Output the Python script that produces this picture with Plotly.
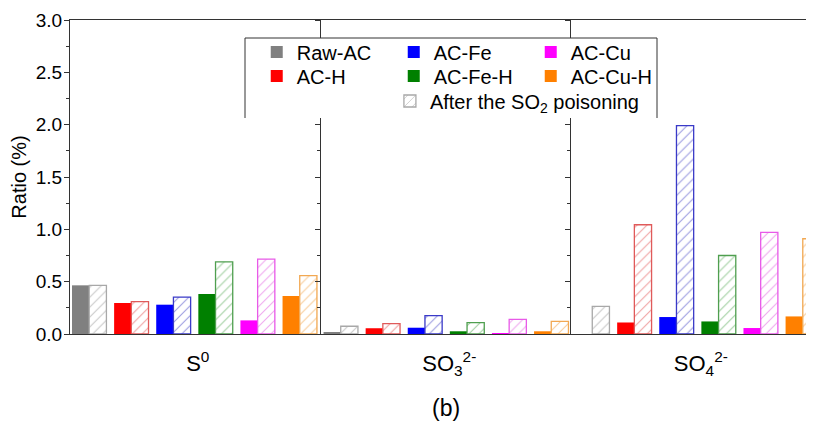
import plotly.graph_objects as go

categories = ["S<sup>0</sup>", "SO<sub>3</sub><sup>2-</sup>", "SO<sub>4</sub><sup>2-</sup>"]
series = ["Raw-AC", "AC-H", "AC-Fe", "AC-Fe-H", "AC-Cu", "AC-Cu-H"]

fresh_raw_ac = [0.465, 0.01, 0.0]
fresh_ac_h = [0.296, 0.055, 0.11]
fresh_ac_fe = [0.28, 0.06, 0.162]
fresh_ac_fe_h = [0.382, 0.026, 0.12]
fresh_ac_cu = [0.13, 0.003, 0.057]
fresh_ac_cu_h = [0.363, 0.026, 0.168]

poisoned_raw_ac = [0.465, 0.074, 0.264]
poisoned_ac_h = [0.31, 0.10, 1.044]
poisoned_ac_fe = [0.353, 0.175, 1.99]
poisoned_ac_fe_h = [0.69, 0.108, 0.75]
poisoned_ac_cu = [0.715, 0.14, 0.97]
poisoned_ac_cu_h = [0.557, 0.12, 0.91]

fresh = [fresh_raw_ac, fresh_ac_h, fresh_ac_fe, fresh_ac_fe_h, fresh_ac_cu, fresh_ac_cu_h]
poisoned = [poisoned_raw_ac, poisoned_ac_h, poisoned_ac_fe, poisoned_ac_fe_h, poisoned_ac_cu, poisoned_ac_cu_h]

solid_colors = ["#808080", "#FF0000", "#0000FF", "#008000", "#FF00FF", "#FF8000"]
outline_colors = ["#A8A8A8", "#E05a5a", "#3a3ac8", "#4f9f4f", "#E85AE8", "#F2A852"]
hatch_colors = ["#C8C8C8", "#F0A0A0", "#9a9ae0", "#a0cfa0", "#F0A8F0", "#F8CC98"]

poison_label = "After the SO<sub>2</sub> poisoning"

FONT = "Arial, Liberation Sans, sans-serif"
x_pos = list(range(len(categories)))
pair_step = 0.1674
bar_w = 0.0684

fig = go.Figure()
for j, name in enumerate(series):
    fig.add_trace(go.Bar(
        x=x_pos, y=fresh[j], name=name,
        offset=-0.5 + j * pair_step, width=bar_w,
        marker=dict(color=solid_colors[j], line=dict(width=0)),
        legend="legend" if j % 2 == 0 else "legend2",
        showlegend=True,
    ))
for j, name in enumerate(series):
    fig.add_trace(go.Bar(
        x=x_pos, y=poisoned[j],
        name=poison_label if j == 0 else name + " poisoned",
        offset=-0.5 + j * pair_step + bar_w, width=bar_w,
        marker=dict(color="white",
                    line=dict(width=1.3, color=outline_colors[j]),
                    pattern=dict(shape="/", fgcolor=hatch_colors[j], bgcolor="white",
                                 size=7, solidity=0.15, fillmode="replace")),
        legend="legend3",
        showlegend=(j == 0),
        yaxis="y2" if j < 3 else "y3",
    ))

axis_color = "#333333"
yax_common = dict(range=[0, 3], dtick=0.5, showgrid=False, zeroline=False,
                  showline=True, linecolor=axis_color, linewidth=1,
                  ticks="outside", ticklen=5, tickcolor=axis_color,
                  minor=dict(ticks="outside", ticklen=3, dtick=0.25, tickcolor=axis_color))

# figure is offset by the page's 8px body margin, so it is 8px smaller
fig.update_layout(
    width=806, height=420,
    margin=dict(l=62, r=0, t=12, b=94),
    paper_bgcolor="white", plot_bgcolor="white",
    barmode="overlay",
    font=dict(family=FONT, size=19, color="black"),
    xaxis=dict(range=[-0.508, 2.45], tickvals=x_pos, ticktext=categories,
               showgrid=False, zeroline=False, showline=True, mirror=True,
               linecolor=axis_color, linewidth=1, ticks="",
               tickfont=dict(size=22), ticklabelstandoff=10),
    yaxis=dict(**yax_common, tickformat=".1f",
               title=dict(text="Ratio (%)", font=dict(size=20), standoff=6),
               tickfont=dict(size=19), ticklabelstandoff=-2),
    yaxis2=dict(**yax_common, overlaying="y", anchor="free", position=0.336,
                showticklabels=False),
    yaxis3=dict(**yax_common, overlaying="y", anchor="free", position=0.672,
                showticklabels=False),
    legend=dict(orientation="h", x=0.251, y=0.898, xanchor="left", yanchor="middle",
                bgcolor="rgba(0,0,0,0)", entrywidth=92, font=dict(size=20),
                traceorder="normal"),
    legend2=dict(orientation="h", x=0.251, y=0.822, xanchor="left", yanchor="middle",
                 bgcolor="rgba(0,0,0,0)", entrywidth=92, font=dict(size=20),
                 traceorder="normal"),
    legend3=dict(orientation="h", x=0.430, y=0.742, xanchor="left", yanchor="middle",
                 bgcolor="rgba(0,0,0,0)", font=dict(size=20)),
    showlegend=True,
)

# legend box background and border (open at the bottom, like the original)
fig.add_shape(type="rect", xref="paper", yref="paper",
              x0=(245 - 70) / 744, x1=(657 - 70) / 744,
              y0=(334 - 118) / 314, y1=(334 - 38) / 314,
              fillcolor="white", line=dict(width=0), layer="above")
fig.add_shape(type="path", xref="paper", yref="paper",
              path="M {a},{b} L {a},{c} L {d},{c} L {d},{b}".format(
                  a=(245 - 70) / 744, b=(334 - 118) / 314,
                  c=(334 - 38) / 314, d=(657 - 70) / 744),
              line=dict(width=1, color=axis_color), layer="above")

fig.add_annotation(text="(b)", xref="paper", yref="paper",
                   x=(446 - 70) / 744, y=(334 - 408) / 314,
                   showarrow=False, font=dict(size=23), xanchor="center", yanchor="middle")

fig.write_html("out.html")
